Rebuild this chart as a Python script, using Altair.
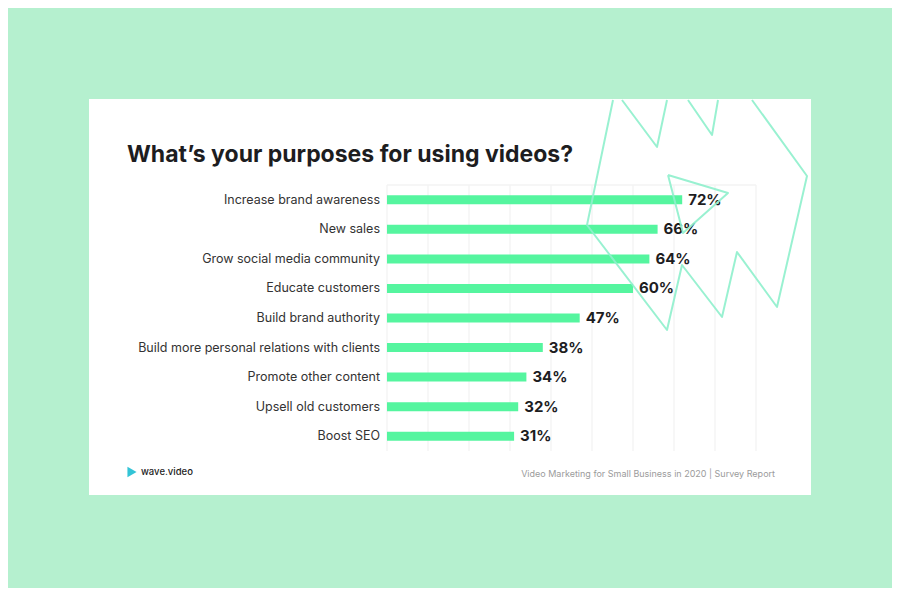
import altair as alt
import pandas as pd

# ---- data ----
categories = [
    "Increase brand awareness",
    "New sales",
    "Grow social media community",
    "Educate customers",
    "Build brand authority",
    "Build more personal relations with clients",
    "Promote other content",
    "Upsell old customers",
    "Boost SEO",
]
values = [72, 66, 64, 60, 47, 38, 34, 32, 31]
value_labels = [f"{v}%" for v in values]
grid_ticks = [0, 10, 20, 30, 40, 50, 60, 70, 80, 90]

title_text = "What’s your purposes for using videos?"
brand_text = "wave.video"
source_text = "Video Marketing for Small Business in 2020 | Survey Report"

# decorative outline (page pixel units)
deco_outer_x = [613, 587, 667, 682, 722, 737, 777, 807, 752]
deco_outer_y = [100, 225, 330, 265, 317, 252, 307, 176, 100]
deco_zig1_x = [622, 657, 667]
deco_zig1_y = [100, 147, 100]
deco_zig2_x = [688, 712, 718]
deco_zig2_y = [100, 135, 100]
deco_tri_x = [668, 728, 683, 668]
deco_tri_y = [175, 193, 233, 175]

# ---- layout ----
W, H = 369, 266
PL, PT = 379, 177
OX, OY = PL + 8, PT + 8  # page coords of plot origin

BG = "#b5f0cf"
BAR = "#55f59f"
DECO = "#8eefcc"
DARK = "#1d1d1f"

df = pd.DataFrame({"cat": categories, "v": values, "lab": value_labels})
one = pd.DataFrame({"a": [0]})

rows = []
for name, xs, ys in [("outer", deco_outer_x, deco_outer_y),
                     ("zig1", deco_zig1_x, deco_zig1_y),
                     ("zig2", deco_zig2_x, deco_zig2_y),
                     ("tri", deco_tri_x, deco_tri_y)]:
    for i, (px, py) in enumerate(zip(xs, ys)):
        rows.append({"shape": name, "i": i, "px": px, "py": py})
deco_df = pd.DataFrame(rows)

card = alt.Chart(one).mark_rect(color="white").encode(
    x=alt.value(89 - OX), x2=alt.value(811 - OX),
    y=alt.value(99 - OY), y2=alt.value(495 - OY),
)

xscale = alt.Scale(domain=[0, 90], nice=False)
yscale = alt.Scale(domain=categories, paddingInner=0, paddingOuter=0)

grid = alt.Chart(pd.DataFrame({"t": grid_ticks})).mark_rule(
    color="#efefef", strokeWidth=1
).encode(
    x=alt.X("t:Q", scale=xscale, axis=None),
    y=alt.value(0), y2=alt.value(H),
)

frame = alt.Chart(pd.DataFrame({"yy": [0, H]})).mark_rule(
    color="#f3f3f3", strokeWidth=1
).encode(
    x=alt.value(0), x2=alt.value(W), y=alt.value(0),
)

bars = alt.Chart(df).mark_bar(height=9, color=BAR).encode(
    x=alt.X("v:Q", scale=xscale, axis=None),
    y=alt.Y("cat:N", scale=yscale, axis=None),
)

cat_labels = alt.Chart(df).mark_text(
    align="right", baseline="middle", font="Inter",
    fontSize=12.5, color="#333333",
).encode(
    x=alt.value(-7),
    y=alt.Y("cat:N", scale=yscale, axis=None),
    text="cat:N",
)

vals = alt.Chart(df).mark_text(
    align="left", baseline="middle", dx=6, font="Inter",
    fontWeight="bold", fontSize=15, color=DARK,
).encode(
    x=alt.X("v:Q", scale=xscale, axis=None),
    y=alt.Y("cat:N", scale=yscale, axis=None),
    text="lab:N",
)

deco = alt.Chart(deco_df).mark_line(
    color=DECO, strokeWidth=2, strokeJoin="round", opacity=0.9
).encode(
    x=alt.X("px:Q", scale=alt.Scale(domain=[OX, OX + W], range=[0, W], nice=False, zero=False), axis=None),
    y=alt.Y("py:Q", scale=alt.Scale(domain=[OY, OY + H], range=[0, H], nice=False, zero=False), axis=None),
    detail="shape:N",
    order="i:Q",
)

title = alt.Chart(one).mark_text(
    align="left", baseline="alphabetic", font="Inter",
    fontWeight="bold", fontSize=23, color=DARK,
).encode(x=alt.value(127 - OX), y=alt.value(162 - OY), text=alt.value(title_text))

logo = alt.Chart(one).mark_point(
    shape="triangle-right", filled=True, size=110, color="#33c4d6", opacity=1
).encode(x=alt.value(132 - OX), y=alt.value(472 - OY))

brand = alt.Chart(one).mark_text(
    align="left", baseline="middle", font="Inter",
    fontWeight=500, fontSize=9.5, color="#222222",
).encode(x=alt.value(141 - OX), y=alt.value(472 - OY), text=alt.value(brand_text))

source = alt.Chart(one).mark_text(
    align="right", baseline="middle", font="Inter",
    fontSize=9, color="#9b9b9b",
).encode(x=alt.value(775 - OX), y=alt.value(474 - OY), text=alt.value(source_text))

main = alt.layer(grid, frame, bars, cat_labels, vals)

chart = alt.layer(card, main, deco, title, logo, brand, source).resolve_scale(
    x="independent", y="independent"
).properties(
    width=W, height=H, background=BG,
    autosize=alt.AutoSizeParams(type="none"),
    padding={"left": PL, "top": PT, "right": 884 - PL - W, "bottom": 580 - PT - H},
).configure_view(stroke=None)

chart.save("out.html", embed_options={"renderer": "svg", "actions": False})
